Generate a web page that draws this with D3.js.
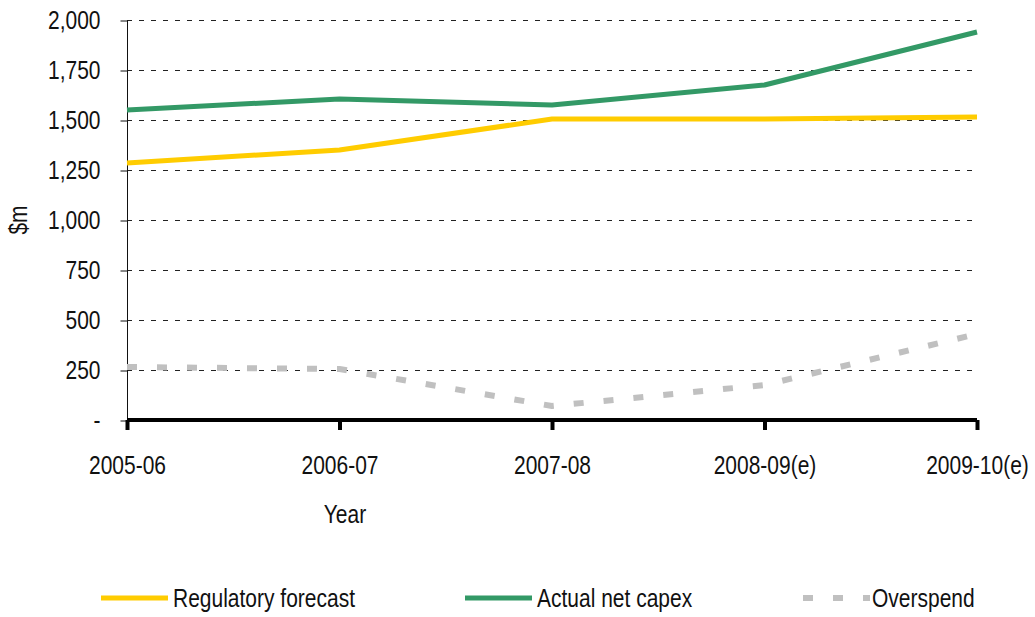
<!DOCTYPE html>
<html>
<head>
<meta charset="utf-8">
<script src="https://cdn.jsdelivr.net/npm/d3@7"></script>
<style>
  html, body { margin: 0; padding: 0; background: #fff; }
  svg { display: block; }
  text { font-family: "Liberation Sans", Arial, sans-serif; fill: #111; }
</style>
</head>
<body>
<svg id="chart" width="1035" height="617"></svg>
<script>
// Capex by year ($m)
const years = ["2005-06", "2006-07", "2007-08", "2008-09(e)", "2009-10(e)"];
const regulatoryForecast = [1285, 1350, 1505, 1505, 1515];
const actualNetCapex = [1550, 1605, 1575, 1675, 1940];
const overspend = [265, 255, 70, 175, 430];
const yTicks = [0, 250, 500, 750, 1000, 1250, 1500, 1750, 2000];

const series = [
  { name: "Regulatory forecast", values: regulatoryForecast, color: "#ffcc00", dash: null, width: 5 },
  { name: "Actual net capex", values: actualNetCapex, color: "#339966", dash: null, width: 5 },
  { name: "Overspend", values: overspend, color: "#c0c0c0", dash: "10,20", width: 6 }
];

const FONT_SIZE = 25;
const SQUEEZE = 0.84; // horizontal squeeze giving a condensed face

const svg = d3.select("#chart");
const plotLeft = 127, plotRight = 977, plotTop = 20, plotBottom = 420;

const x = d3.scalePoint().domain(years).range([plotLeft, plotRight]);
const y = d3.scaleLinear().domain([0, 2000]).range([plotBottom, plotTop]);

// narrow a text selection horizontally while keeping its anchor point
function condense(sel) {
  sel.each(function () {
    const t = d3.select(this);
    const x0 = +(t.attr("x") || 0);
    const prev = t.attr("transform") || "";
    t.attr("x", x0 / SQUEEZE)
     .attr("transform", `${prev} scale(${SQUEEZE},1)`)
     .attr("font-size", FONT_SIZE)
     .attr("fill", "#111")
     .style("font-family", '"Liberation Sans", Arial, sans-serif');
  });
}

// dashed horizontal gridlines
svg.append("g")
  .selectAll("line")
  .data(yTicks.filter(d => d > 0))
  .join("line")
  .attr("x1", plotLeft).attr("x2", plotRight)
  .attr("y1", d => y(d) + 0.5).attr("y2", d => y(d) + 0.5)
  .attr("stroke", "#222")
  .attr("stroke-width", 1)
  .attr("stroke-dasharray", "5,7");

// y axis
const yAxis = d3.axisLeft(y)
  .tickValues(yTicks)
  .tickSize(7)
  .tickPadding(20)
  .tickFormat(d => d === 0 ? "-" : d3.format(",")(d));
const yg = svg.append("g").attr("transform", `translate(${plotLeft + 0.5},0)`).call(yAxis);
yg.select(".domain").attr("stroke", "#111").attr("stroke-width", 1).attr("d", `M0,${plotTop}V${plotBottom}`);
yg.selectAll(".tick line").attr("stroke", "#111").attr("stroke-width", 1)
  .attr("transform", "translate(0,0.5)");
yg.selectAll(".tick text").call(condense);

// x axis
const xAxis = d3.axisBottom(x).tickSize(10).tickPadding(26);
const xg = svg.append("g").attr("transform", `translate(0,${plotBottom})`).call(xAxis);
xg.select(".domain").attr("stroke", "#000").attr("stroke-width", 4).attr("d", `M${plotLeft},0H${plotRight}`);
xg.selectAll(".tick line").attr("stroke", "#000").attr("stroke-width", 4);
xg.selectAll(".tick text").call(condense);

// axis titles
svg.append("text")
  .attr("transform", "translate(27,220) rotate(-90)")
  .attr("text-anchor", "middle")
  .text("$m")
  .call(condense);
svg.append("text")
  .attr("transform", "translate(345,523)")
  .attr("text-anchor", "middle")
  .text("Year")
  .call(condense);

// series lines
const line = d3.line().x((d, i) => x(years[i])).y(d => y(d));
const drawOrder = [series[2], series[0], series[1]];
svg.append("g")
  .selectAll("path")
  .data(drawOrder)
  .join("path")
  .attr("d", s => line(s.values))
  .attr("fill", "none")
  .attr("stroke", s => s.color)
  .attr("stroke-width", s => s.width)
  .attr("stroke-dasharray", s => s.dash)
  .attr("stroke-linejoin", "round");

// legend
const legendX = [101, 465, 803];
const lg = svg.append("g")
  .selectAll("g")
  .data(series)
  .join("g")
  .attr("transform", (s, i) => `translate(${legendX[i]},598)`);
lg.append("line")
  .attr("x1", 0).attr("x2", 67)
  .attr("y1", 0).attr("y2", 0)
  .attr("stroke", s => s.color)
  .attr("stroke-width", s => s.width)
  .attr("stroke-dasharray", s => s.dash);
lg.append("text")
  .attr("transform", s => `translate(${s.dash ? 69 : 72},0)`)
  .attr("dy", "0.35em")
  .text(s => s.name)
  .call(condense);
</script>
</body>
</html>
